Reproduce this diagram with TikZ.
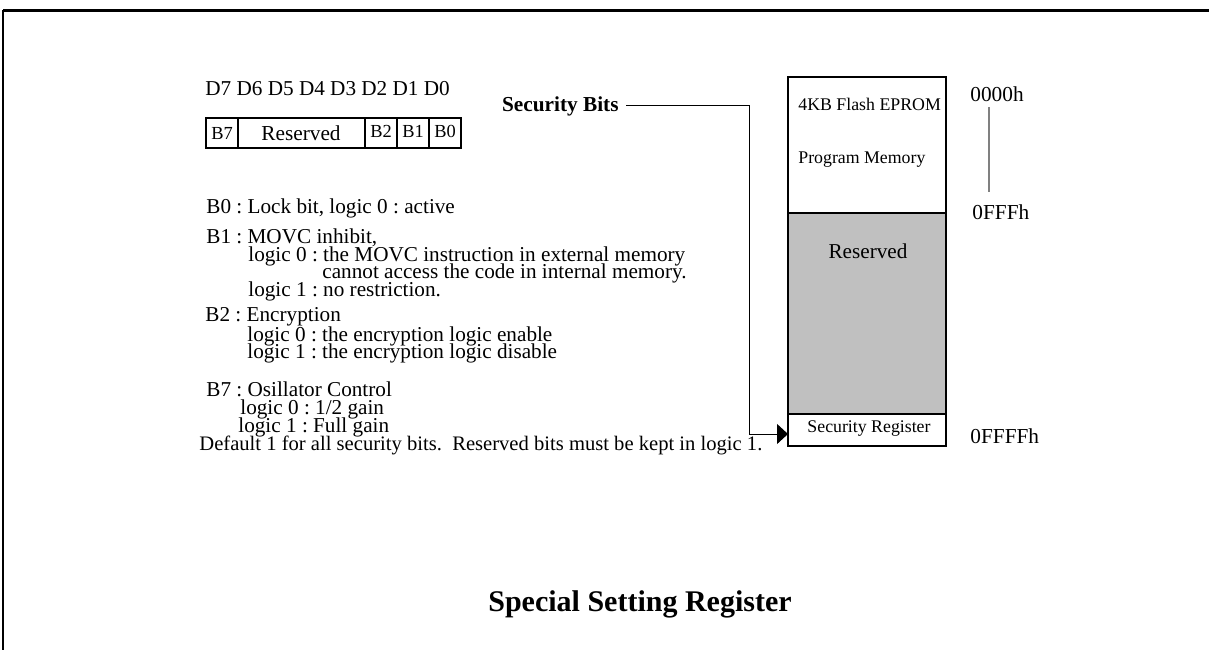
\documentclass[tikz,border=0pt]{standalone}
\usepackage{fontspec}
\setmainfont{Liberation Serif}
\usetikzlibrary{arrows.meta}

\definecolor{memgray}{RGB}{192,192,192}
\definecolor{markgray}{RGB}{128,128,128}

\tikzset{
  txt/.style={anchor=base west, inner sep=0pt, font=\fontsize{10.6}{12}\selectfont},
  smalltxt/.style={inner sep=0pt, font=\fontsize{8.9}{10}\selectfont},
  celltxt/.style={inner sep=0pt, anchor=base, font=\fontsize{9.2}{10}\selectfont},
  addrtxt/.style={anchor=base west, inner sep=0pt, font=\fontsize{10.65}{12}\selectfont},
  thinline/.style={line width=.6pt}
}

\begin{document}
\frenchspacing
\begin{tikzpicture}[x=.5pt, y=-.5pt]
    \useasboundingbox (0,0) rectangle (1209,650);

    % page frame
    \draw[line width=1.5pt] (3,10) -- (1209,10);
    \draw[line width=1pt] (3,10) -- (3,650);

    % bit register
    \node[txt] (dbits) at (205,95) {D7 D6 D5 D4 D3 D2 D1 D0};
    \draw[thinline] (206,118) rectangle (461,148);
    \foreach \x in {238,365,397,429}
    \draw[thinline] (\x,118) -- (\x,148);
    \node[celltxt] (cb7) at (222,139) {B7};
    \node[celltxt, font=\fontsize{10.65}{12}\selectfont] (cres) at (301,140) {Reserved};
    \node[celltxt] (cb2) at (381,137) {B2};
    \node[celltxt] (cb1) at (413,137) {B1};
    \node[celltxt] (cb0) at (445,137) {B0};

    % bit descriptions
    \node[txt] (b0) at (206,213) {B0 : Lock bit, logic 0 : active};
    \node[txt] (b1) at (206,243) {B1 : MOVC inhibit,};
    \node[txt] (b1a) at (248,261) {logic 0 : the MOVC instruction in external memory};
    \node[txt] (b1b) at (322,278) {cannot access the code in internal memory.};
    \node[txt] (b1c) at (248,296) {logic 1 : no restriction.};
    \node[txt] (b2) at (205,321) {B2 : Encryption};
    \node[txt] (b2a) at (247,341) {logic 0 : the encryption logic enable};
    \node[txt] (b2b) at (247,358) {logic 1 : the encryption logic disable};
    \node[txt] (b7) at (206,396) {B7 : Osillator Control};
    \node[txt] (b7a) at (240,414) {logic 0 : 1/2 gain};
    \node[txt] (b7b) at (238,432) {logic 1 : Full gain};
    \node[txt, font=\fontsize{10.3}{12}\selectfont] (dflt) at (199,450) {Default 1 for all security bits.\ \ Reserved bits must be kept in logic 1.};

    % memory map
    \draw[thinline, fill=memgray] (788,213) rectangle (946,414);
    \draw[thinline] (788,77) rectangle (946,446);
    \node[smalltxt, anchor=base west] (flash) at (798,110) {4KB Flash EPROM};
    \node[smalltxt, anchor=base west] (prog) at (798,163) {Program Memory};
    \node[txt, anchor=base] (mres) at (868,258) {Reserved};
    \node[smalltxt, anchor=base] (secreg) at (869,432) {Security Register};
    \coordinate (secin) at (788,434);

    % addresses
    \node[addrtxt] (a0) at (970,101) {0000h};
    \draw[markgray, line width=.8pt] (989,107) -- (989,192);
    \node[addrtxt] (a1) at (972,219) {0FFFh};
    \node[addrtxt] (a2) at (970,443) {0FFFFh};

    % security bits pointer
    \node[anchor=base east, inner sep=3.5pt, font=\fontsize{10.65}{12}\selectfont\bfseries] (secbits) at (626,111) {Security Bits};
    \coordinate (bend) at (749,0);
    \draw[line width=.5pt, -{Triangle[length=5.5pt,width=10pt]}] (secbits.east) -- (secbits.east -| bend) |- (secin);

    \node[anchor=base, inner sep=0pt, font=\fontsize{15}{18}\selectfont\bfseries] (title) at (640,611) {Special Setting Register};
\end{tikzpicture}
\end{document}
